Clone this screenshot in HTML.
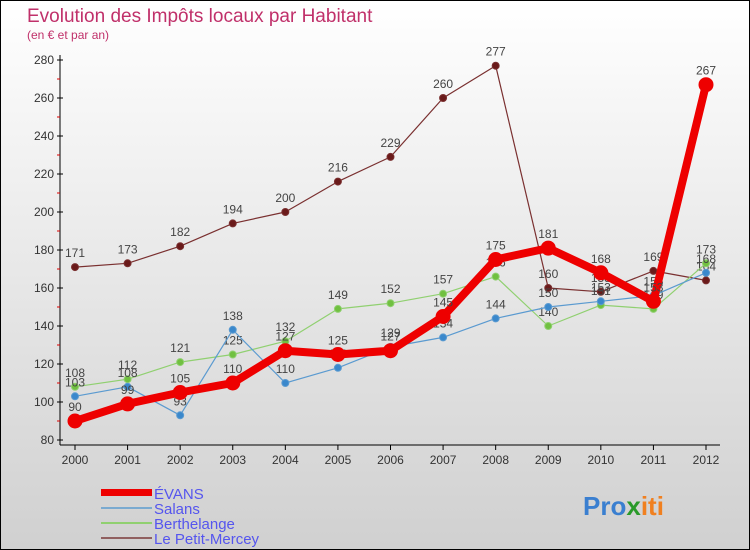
<!DOCTYPE html>
<html><head><meta charset="utf-8"><style>
body{margin:0}
svg{display:block;font-family:"Liberation Sans",sans-serif}
</style></head><body>
<svg id="c" width="750" height="550" viewBox="0 0 750 550">
<defs><linearGradient id="bg" x1="0" y1="0" x2="0" y2="1"><stop offset="0" stop-color="#ffffff"/><stop offset="1" stop-color="#d0d0d0"/></linearGradient></defs>
<rect x="0.5" y="0.5" width="749" height="549" fill="url(#bg)" stroke="#000"/>
<text x="27" y="22" font-size="19" fill="#c0306a">Evolution des Impôts locaux par Habitant</text>
<text x="27" y="39" font-size="12" fill="#c0306a">(en € et par an)</text>
<g id="axes"></g><g id="series"></g>
<g font-size="15" fill="#5555ee">
<rect x="101" y="489" width="51" height="7" fill="#e00"/>
<text x="154" y="499">ÉVANS</text>
<rect x="101" y="507" width="51" height="2" fill="#7aaad0"/>
<text x="154" y="514">Salans</text>
<rect x="101" y="522" width="51" height="2" fill="#90d070"/>
<text x="154" y="529">Berthelange</text>
<rect x="101" y="537" width="51" height="2" fill="#906060"/>
<text x="154" y="544">Le Petit-Mercey</text>
</g>
<text x="583" y="515" font-size="26" font-weight="bold"><tspan fill="#3a7fd0">Pro</tspan><tspan fill="#2a9a2a">x</tspan><tspan fill="#f08020">iti</tspan></text>
</svg>
<script>
const years=[2000,2001,2002,2003,2004,2005,2006,2007,2008,2009,2010,2011,2012];
const yTicks=[80,100,120,140,160,180,200,220,240,260,280];
const evans=[90,99,105,110,127,125,127,145,175,181,168,153,267];
const salans=[103,108,93,138,110,118,129,134,144,150,153,156,168];
const berthelange=[108,112,121,125,132,149,152,157,166,140,151,149,173];
const petitMercey=[171,173,182,194,200,216,229,260,277,160,158,169,164];
const NS="http://www.w3.org/2000/svg";
const X=i=>75+i*(706-75)/(years.length-1);
const Y=v=>440-(v-80)*(380/200);
function mk(t,a,p){const e=document.createElementNS(NS,t);for(const k in a)e.setAttribute(k,a[k]);p.appendChild(e);return e;}
const ax=document.getElementById('axes');
const yl=mk('line',{x1:60,y1:55,x2:60,y2:445,stroke:'#000'},ax);


const xl=mk('line',{x1:60,y1:445,x2:720,y2:445,stroke:'#000'},ax);


yTicks.forEach((v,i)=>{
 mk('line',{x1:57,y1:Y(v),x2:63,y2:Y(v),stroke:'#000'},ax);
 if(i<yTicks.length-1)mk('line',{x1:57,y1:Y(v+10),x2:60,y2:Y(v+10),stroke:'#d00'},ax);
 const t=mk('text',{x:54,y:Y(v)+4,'font-size':12,fill:'#333','text-anchor':'end'},ax);
 t.textContent=v;
 
 
});
years.forEach((y,i)=>{
 mk('line',{x1:X(i),y1:445,x2:X(i),y2:450,stroke:'#000'},ax);
 const t=mk('text',{x:X(i),y:464,'font-size':12,fill:'#333','text-anchor':'middle'},ax);
 t.textContent=y;
 
 
});
const sg=document.getElementById('series');
function draw(data,name,color,w,r,fill){
 const g=mk('g',{},sg);
 
 
 const l=mk('polyline',{points:data.map((v,i)=>X(i)+','+Y(v)).join(' '),fill:'none',stroke:color,'stroke-width':w,'stroke-linejoin':'round'},g);
 
 
 data.forEach((v,i)=>{
  const c=mk('circle',{cx:X(i),cy:Y(v),r:r,fill:fill,stroke:color,'stroke-width':1},g);
  
  
  const t=mk('text',{x:X(i),y:Y(v)-10,'font-size':12,fill:'#444','text-anchor':'middle'},g);
  t.textContent=v;
  
  
 });
}
draw(petitMercey,'le-petit-mercey','#7a3030',1.2,3.5,'#6a1a1a');
draw(berthelange,'berthelange','#90d070',1.2,3.5,'#70c040');
draw(salans,'salans','#5a9ad0',1.2,3.5,'#3a88cc');
draw(evans,'evans','#ee0000',8,7,'#ee0000');
</script>
</body></html>
